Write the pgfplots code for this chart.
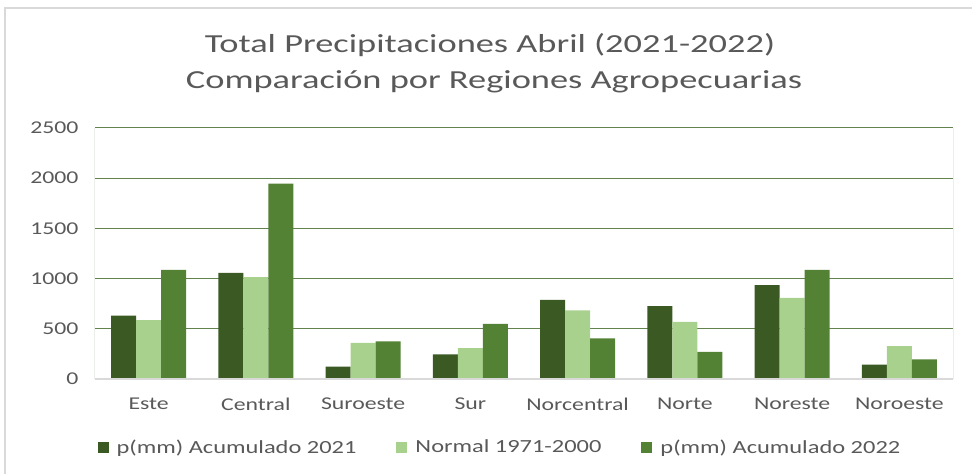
\documentclass[border=0pt]{standalone}
\usepackage{pgfplots}
\pgfplotsset{compat=1.18}
\usepackage{fontspec}
\setmainfont[FakeStretch=1.32]{Carlito}
\newfontfamily\titlefont[FakeStretch=1.4]{Carlito}
\definecolor{sDark}{HTML}{3B5A23}
\definecolor{sLight}{HTML}{A9D18E}
\definecolor{sGreen}{HTML}{548235}
\definecolor{gridG}{HTML}{62824E}
\definecolor{txt}{HTML}{595959}
\definecolor{bord}{HTML}{D9D9D9}
\begin{document}
\begin{tikzpicture}[x=1pt,y=1pt]
\useasboundingbox (0,0) rectangle (972,474);
\draw[bord,line width=1.2pt] (5,0) -- (5,466) -- (972,466);
\node[txt,font=\titlefont\fontsize{26}{30}\selectfont] at (490,429) {Total Precipitaciones Abril (2021-2022)};
\node[txt,font=\titlefont\fontsize{26}{30}\selectfont] at (494,392) {Comparación por Regiones Agropecuarias};
\begin{axis}[
  at={(95pt,95pt)}, anchor=south west,
  scale only axis, width=858pt, height=251pt,
  ybar=0pt, bar width=25pt,
  xmin=-0.5, xmax=7.5, ymin=0, ymax=2500,
  xtick=data,
  xticklabels={Este,Central,Suroeste,Sur,Norcentral,Norte,Noreste,Noroeste},
  ytick={0,500,1000,1500,2000,2500},
  ymajorgrids, grid style={gridG,line width=1pt},
  axis line style={draw=none},
  major tick length=0pt,
  tick label style={txt,font=\fontsize{18}{20}\selectfont},
  /pgf/number format/assume math mode=true,
  /pgf/number format/1000 sep={},
  yticklabel style={xshift=-13pt},
  xticklabel style={yshift=-15pt},
  legend columns=3,
  legend style={at={(axis description cs:0.472,-0.271)},anchor=center,draw=none,
    font=\fontsize{18.5}{20}\selectfont,text=txt,
    /tikz/every odd column/.append style={column sep=6pt},
    /tikz/every even column/.append style={column sep=38pt}},
  legend image code/.code={\fill[#1] (0pt,-5.5pt) rectangle (11pt,5.5pt);},
  legend cell align=left,
]
\addplot[fill=sDark,draw=none] coordinates {(0,630) (1,1058) (2,123) (3,245) (4,789) (5,726) (6,935) (7,143)};
\addplot[fill=sLight,draw=none] coordinates {(0,587) (1,1015) (2,361) (3,308) (4,683) (5,570) (6,809) (7,328)};
\addplot[fill=sGreen,draw=none] coordinates {(0,1088) (1,1947) (2,375) (3,550) (4,405) (5,269) (6,1088) (7,196)};
\legend{p(mm) Acumulado 2021,Normal 1971-2000,p(mm) Acumulado 2022}
\draw[gridG,line width=1pt] (rel axis cs:0,0) -- (rel axis cs:0,1);
\draw[gridG,line width=1pt] (rel axis cs:1,0) -- (rel axis cs:1,1);
\draw[bord,line width=1.2pt] (rel axis cs:0,0) -- (rel axis cs:1,0);
\end{axis}
\end{tikzpicture}
\end{document}
